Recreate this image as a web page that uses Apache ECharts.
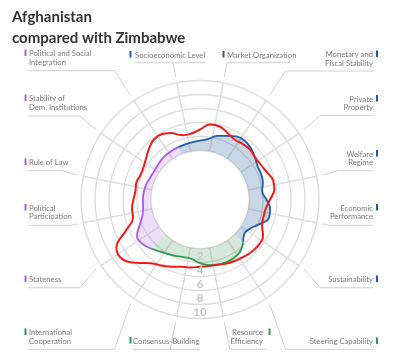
<!DOCTYPE html>
<html><head><meta charset="utf-8">
<script src="https://cdn.jsdelivr.net/npm/echarts@6/dist/echarts.min.js"></script>
<style>html,body{margin:0;padding:0;background:#fff}#c{width:400px;height:358px}</style>
</head><body><div id="c"></div>
<script>
// ---------- data ----------
const titleLines = ['Afghanistan', 'compared with Zimbabwe'];
// clockwise from the top, each category occupies a 22.5° sector; first one spans -22.5°..0°
const categories = ['Socioeconomic Level', 'Market Organization', 'Monetary and\nFiscal Stability',
  'Private\nProperty', 'Welfare\nRegime', 'Economic\nPerformance', 'Sustainability',
  'Steering Capability', 'Resource\nEfficiency', 'Consensus-Building', 'International\nCooperation',
  'Stateness', 'Political\nParticipation', 'Rule of Law', 'Stability of\nDem. Institutions',
  'Political and Social\nIntegration'];
const categoryGroup = ['econ','econ','econ','econ','econ','econ','econ',
  'gov','gov','gov','gov','pol','pol','pol','pol','pol'];
const radiusTicks = [0, 2, 4, 6, 8, 10];
// sample angles (degrees clockwise from top) at which the curves were read
const sampleAngles = [-22.5, -15, -7.5, 0, 7.5, 15, 22.5, 30, 37.5, 45, 52.5, 60, 67.5, 75, 82.5, 90,
  97.5, 105, 112.5, 120, 127.5, 135, 142.5, 150, 157.5, 165, 172.5, 180, 187.5, 195, 202.5, 210,
  217.5, 225, 232.5, 240, 247.5, 255, 262.5, 270, 277.5, 285, 292.5, 300, 307.5, 315, 322.5, 330, 337.5];
const afghanistanValues = [1.1, 1.15, 1.25, 1.4, 1.7, 2.4, 2.85, 3.4, 3.55, 3.3, 2.9, 2.5, 2.45, 2.3, 1.95, 2.5,
  3.1, 3.2, 2.2, 1.3, 1.0, 1.7, 2.4, 2.65, 2.7, 2.65, 2.45, 2.1, 1.6, 1.55, 1.75, 2.0,
  2.4, 2.9, 3.4, 3.4, 2.3, 1.5, 1.2, 1.15, 1.1, 1.0, 0.8, 0.7, 0.75, 0.9, 1.0, 1.05, 1.1];
const zimbabweValues = [3.3, 2.5, 2.5, 3.0, 3.8, 3.8, 3.3, 2.9, 3.0, 3.1, 2.9, 3.0, 3.3, 3.8, 3.7, 3.0,
  2.5, 2.4, 2.6, 3.4, 3.6, 3.5, 3.3, 3.1, 2.9, 2.65, 2.6, 2.6, 2.8, 2.95, 3.4, 3.9,
  4.5, 5.8, 7.0, 6.8, 4.4, 2.9, 2.8, 2.5, 2.3, 2.4, 2.2, 2.3, 2.7, 3.3, 3.8, 3.8, 3.3];

// ---------- style / layout ----------
const cx = 200, cy = 199.5, rIn = 49, rOut = 119, SECTOR = 22.5;
const groupStyle = {
  econ: {line: '#1f5ca6', fill: 'rgba(40,90,150,0.25)', bar: '#1f5ca6'},
  gov:  {line: '#2c9a4b', fill: 'rgba(46,140,70,0.2)', bar: '#2c9a4b'},
  pol:  {line: '#a957f2', fill: 'rgba(165,95,215,0.2)', bar: '#b05cf2'}
};
const labelLayout = [
  {side: 'L', x: 135, bar: 129.5, y: 55.5, uy: 62.7, ux: [135, 205]},
  {side: 'L', x: 227, bar: 222.5, y: 55.5, uy: 62.7, ux: [227, 290]},
  {side: 'R', y: 55, uy: 71},
  {side: 'R', y: 99.5, uy: 115.7},
  {side: 'R', y: 154.5, uy: 170.7},
  {side: 'R', y: 208.5, uy: 225.3},
  {side: 'R', y: 280, uy: 287.7},
  {side: 'R', y: 342, uy: 349.3},
  {side: 'R', x: 263, bar: 268.5, y: 333, uy: 349.3, ux: [null, 267]},
  {side: 'L', x: 133, bar: 129.5, y: 341.5, uy: 349.3, ux: [133, 200]},
  {side: 'L', y: 333, uy: 349.3},
  {side: 'L', y: 280, uy: 287.7},
  {side: 'L', y: 208.5, uy: 225.3},
  {side: 'L', y: 163, uy: 170.7},
  {side: 'L', y: 99, uy: 116},
  {side: 'L', y: 54, uy: 70.7}
];
const FONT = 'Lato, Roboto, sans-serif';
const LABEL_SIZE = 7.7, LABEL_LH = 8.5;

// ---------- series ----------
function groupRange(g) {
  const idx = categoryGroup.map((v, i) => v === g ? i : -1).filter(i => i >= 0);
  return [-SECTOR + SECTOR * idx[0], SECTOR * idx[idx.length - 1]];
}
const series = [];
['econ', 'gov', 'pol'].forEach(g => {
  const [a0, a1] = groupRange(g);
  const data = [];
  sampleAngles.forEach((a, i) => { if (a >= a0 - 1e-6 && a <= a1 + 1e-6) data.push([afghanistanValues[i], a]); });
  series.push({
    type: 'line', coordinateSystem: 'polar', polarIndex: 0, smooth: 0.45, symbol: 'none',
    data, z: 3,
    lineStyle: {color: groupStyle[g].line, width: 1.8},
    areaStyle: {color: groupStyle[g].fill, opacity: 1}
  });
});
series.push({
  type: 'line', coordinateSystem: 'polar', polarIndex: 0, smooth: 0.45, symbol: 'none', z: 4,
  data: sampleAngles.map((a, i) => [zimbabweValues[i], a]),
  lineStyle: {color: '#ee1b1b', width: 2}
});

// ---------- labels with leader lines ----------
const graphics = [];
const LINE_COL = '#d0d0d0';
categories.forEach((name, i) => {
  const L = labelLayout[i];
  const th = (-SECTOR / 2 + SECTOR * i) * Math.PI / 180;
  const sx = cx + 125 * Math.sin(th), sy = cy - 125 * Math.cos(th);
  let bx = sx + (L.uy - sy) * Math.sin(th) / (-Math.cos(th));
  if (Math.abs(bx - sx) > 16) bx = sx + Math.sign(bx - sx) * 16;
  const left = L.side === 'L';
  const tx = L.x !== undefined ? L.x : (left ? 29 : 373);
  const barX = L.bar !== undefined ? L.bar : (left ? 24.5 : 376);
  let ux = L.ux ? L.ux.slice() : (left ? [28, null] : [null, 373]);
  ux = ux.map(v => v === null ? bx : v);
  graphics.push({type: 'polyline', silent: true,
    shape: {points: [[sx, sy], [bx, L.uy]]}, style: {stroke: LINE_COL, lineWidth: 1, fill: null}});
  graphics.push({type: 'line', silent: true,
    shape: {x1: ux[0], y1: L.uy, x2: ux[1], y2: L.uy}, style: {stroke: LINE_COL, lineWidth: 1}});
  graphics.push({type: 'rect', silent: true,
    shape: {x: barX, y: L.y - 4.5, width: 2, height: 6.5}, style: {fill: groupStyle[categoryGroup[i]].bar}});
  graphics.push({type: 'text', silent: true, style: {
    text: name, x: tx, y: L.y - LABEL_LH / 2, align: left ? 'left' : 'right', verticalAlign: 'top',
    fontSize: LABEL_SIZE, fontFamily: FONT, lineHeight: LABEL_LH, fill: '#7a7a7a'}});
});

const chart = echarts.init(document.getElementById('c'), null, {renderer: 'canvas'});
const gridCol = '#dddddd';
chart.setOption({
  animation: false,
  backgroundColor: '#fff',
  title: {text: titleLines.join('\n'), left: 7, top: 2, padding: [5, 5, 5, 5],
    textStyle: {fontFamily: FONT, fontSize: 15, fontWeight: 'bold', color: '#333', lineHeight: 21}},
  polar: [
    {center: [cx, cy], radius: [rIn, rOut]},
    {center: [cx, cy], radius: [rIn, rOut]},
    {center: [cx, cy], radius: [rIn, rOut]}
  ],
  angleAxis: [
    {polarIndex: 0, type: 'value', min: 0, max: 360, startAngle: 90, clockwise: true, show: false},
    {polarIndex: 1, type: 'value', min: 0, max: 360, interval: SECTOR, startAngle: 90 - SECTOR / 2, clockwise: true,
      axisLine: {show: false}, axisTick: {show: false}, axisLabel: {show: false},
      splitLine: {show: true, lineStyle: {color: gridCol, width: 1.4}}},
    {polarIndex: 2, type: 'value', min: 0, max: 360, startAngle: -90, clockwise: true, show: false}
  ],
  radiusAxis: [
    {polarIndex: 0, type: 'value', min: radiusTicks[0], max: radiusTicks[radiusTicks.length - 1], interval: 2,
      axisLine: {show: false}, axisTick: {show: false}, axisLabel: {show: false},
      splitLine: {show: true, lineStyle: {color: gridCol, width: 1.4}}},
    {polarIndex: 1, type: 'value', min: 0, max: 10, show: false},
    {polarIndex: 2, type: 'value', min: radiusTicks[0], max: radiusTicks[radiusTicks.length - 1], interval: 2, z: 20,
      axisLine: {show: false}, axisTick: {show: false}, splitLine: {show: false},
      axisLabel: {show: true, showMinLabel: false, margin: 0, align: 'center', verticalAlign: 'bottom',
        fontFamily: FONT, fontSize: 11.5, fontWeight: 'bold', color: '#c6c6c6'}}
  ],
  graphic: graphics,
  series
});
</script></body></html>
